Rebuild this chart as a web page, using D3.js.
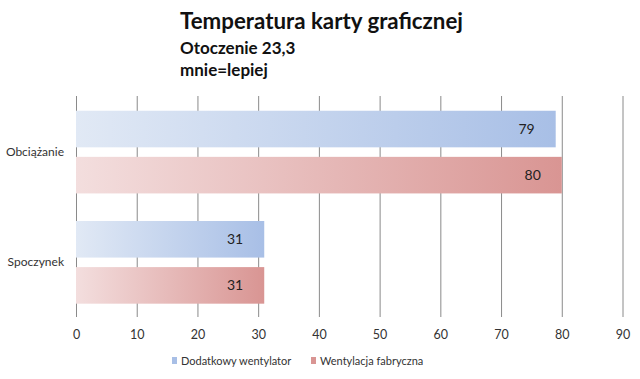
<!DOCTYPE html>
<html><head><meta charset="utf-8">
<script src="https://cdn.jsdelivr.net/npm/d3@7"></script>
<style>body{margin:0;background:#fff}svg{display:block}</style>
</head><body>
<svg id="c" width="640" height="379"></svg>
<script>
const categories = ["Obciążanie", "Spoczynek"];
const seriesNames = ["Dodatkowy wentylator", "Wentylacja fabryczna"];
const dodatkowy = [79, 31];
const fabryczna = [80, 31];
const xTicks = [0,10,20,30,40,50,60,70,80,90];
const titleLines = ["Temperatura karty graficznej", "Otoczenie 23,3", "mnie=lepiej"];

const svg = d3.select("#c");
const font = "Lato, 'Open Sans', sans-serif";
const x = d3.scaleLinear().domain([0,90]).range([76,622.5]);
const y = d3.scaleBand().domain(categories).range([96,316.5]).paddingInner(0).paddingOuter(0);
const ys = d3.scaleBand().domain([0,1]).range([0, y.bandwidth()]).paddingInner(0.2065).paddingOuter(0.299).align(0.535);

const defs = svg.append("defs");
const grads = [["#e1e9f5","#a8bfe6"],["#f3dede","#d99593"]];
grads.forEach((g,i)=>{
  const lg = defs.append("linearGradient").attr("id","g"+i).attr("x1","0").attr("x2","1").attr("y1","0").attr("y2","0");
  lg.append("stop").attr("offset","0").attr("stop-color",g[0]);
  lg.append("stop").attr("offset","1").attr("stop-color",g[1]);
});

// gridlines
svg.append("g").attr("transform","translate(0,315)")
  .call(d3.axisBottom(x).tickValues(xTicks).tickSize(315-96).tickPadding(10))
  .call(g=>g.select(".domain").remove())
  .call(g=>g.selectAll("line").attr("stroke","#8a8a8a").attr("y1",-(315-96)).attr("y2",2))
  .call(g=>g.selectAll("text").attr("y",15).attr("font-family",font).attr("font-size",12.5).attr("fill","#333"));

const series = [dodatkowy, fabryczna];
series.forEach((vals,si)=>{
  const gg = svg.append("g");
  gg.selectAll("rect").data(categories).join("rect")
    .attr("x",x(0)).attr("y",d=>y(d)+ys(si)).attr("height",ys.bandwidth())
    .attr("width",(d,i)=>x(vals[i])-x(0)).attr("fill","url(#g"+si+")");
  gg.selectAll("text").data(categories).join("text")
    .attr("x",(d,i)=>x(vals[i])-21).attr("y",(d)=>y(d)+ys(si)+ys.bandwidth()/2+5)
    .attr("text-anchor","end").attr("font-family",font).attr("font-size",14).attr("fill","#222")
    .text((d,i)=>vals[i]);
});

// category labels
svg.selectAll(".cat").data(categories).join("text").attr("class","cat")
  .attr("x",64).attr("y",d=>y(d)+y.bandwidth()/2+4.5).attr("text-anchor","end")
  .attr("font-family",font).attr("font-size",12).attr("fill","#333").text(d=>d);

// title
svg.append("text").attr("x",180).attr("y",29).attr("font-family",font).attr("font-weight","bold").attr("font-size",22.3).attr("fill","#111").text(titleLines[0]);
svg.append("text").attr("x",180).attr("y",54).attr("font-family",font).attr("font-weight","bold").attr("font-size",17).attr("fill","#111").text(titleLines[1]);
svg.append("text").attr("x",180).attr("y",76).attr("font-family",font).attr("font-weight","bold").attr("font-size",17).attr("fill","#111").text(titleLines[2]);

// legend
const lx = [172, 311];
seriesNames.forEach((n,i)=>{
  svg.append("rect").attr("x",lx[i]).attr("y",357).attr("width",5).attr("height",7).attr("fill",grads[i][1]);
  svg.append("text").attr("x",lx[i]+9).attr("y",365).attr("font-family",font).attr("font-size",11).attr("fill","#333").text(n);
});
</script>
</body></html>
